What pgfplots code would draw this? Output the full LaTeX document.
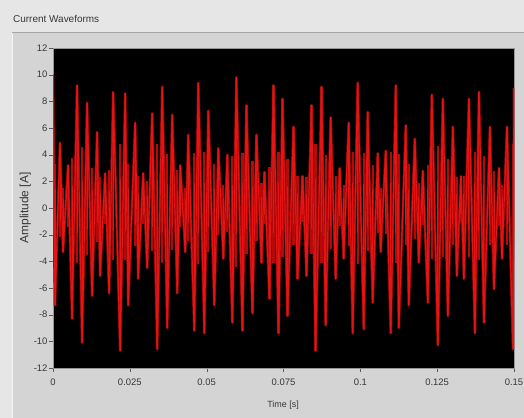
\documentclass[border=0pt]{standalone}
\usepackage{fontspec}
\setmainfont{Liberation Sans}
\usepackage{pgfplots}
\usepackage{pgfplotstable}
\pgfplotsset{compat=1.18}
\definecolor{outerbg}{RGB}{230,230,230}
\definecolor{panelbg}{RGB}{212,212,212}
\definecolor{txt}{RGB}{55,55,55}
\definecolor{wave}{RGB}{228,20,20}
\definecolor{wavedark}{RGB}{145,6,6}
\definecolor{wavemid}{RGB}{180,10,10}
\pgfplotstableread{
t y
0.00000 10.0
0.00065 -7.3
0.00228 4.9
0.00326 -3.3
0.00489 3.2
0.00620 -8.3
0.00783 9.2
0.00946 -10.1
0.01109 7.9
0.01272 -6.6
0.01435 5.7
0.01533 -5.1
0.01696 2.6
0.01826 -6.4
0.01957 8.7
0.02185 -10.7
0.02348 8.6
0.02446 -7.3
0.02674 6.4
0.02772 -5.3
0.02935 2.6
0.03065 -4.5
0.03228 7.1
0.03391 -10.6
0.03554 9.1
0.03717 -9.0
0.03880 7.0
0.04043 -6.4
0.04141 3.2
0.04304 -3.3
0.04402 5.5
0.04598 -9.2
0.04728 9.4
0.04924 -9.4
0.05054 7.3
0.05250 -7.3
0.05380 4.5
0.05543 -3.8
0.05674 4.0
0.05837 -8.6
0.05967 9.8
0.06163 -9.2
0.06293 7.7
0.06489 -7.9
0.06620 5.5
0.06783 -4.1
0.06880 2.7
0.07043 -6.8
0.07174 9.2
0.07337 -9.4
0.07467 8.2
0.07630 -8.1
0.07826 6.1
0.07957 -5.3
0.08120 2.4
0.08250 -5.1
0.08413 7.7
0.08543 -10.7
0.08739 9.1
0.08870 -8.8
0.09033 6.8
0.09196 -5.3
0.09326 3.0
0.09457 -3.8
0.09620 6.4
0.09750 -9.4
0.09913 9.4
0.10109 -9.1
0.10239 7.2
0.10402 -7.1
0.10565 4.1
0.10663 -3.3
0.10826 4.3
0.10989 -9.4
0.11152 9.2
0.11250 -9.0
0.11478 6.2
0.11576 -7.3
0.11772 5.2
0.11902 -4.1
0.12033 2.8
0.12196 -7.1
0.12326 8.5
0.12522 -10.3
0.12685 8.2
0.12848 -8.1
0.13011 6.1
0.13141 -5.1
0.13272 2.4
0.13370 -5.3
0.13533 8.2
0.13728 -9.4
0.13859 8.7
0.14022 -8.6
0.14217 6.1
0.14348 -6.1
0.14511 3.0
0.14609 -3.8
0.14772 6.1
0.14967 -10.6
0.15000 9.0
}\wavedata
\begin{document}
\begin{tikzpicture}
\useasboundingbox (0bp,0bp) rectangle (524bp,418bp);
\fill[outerbg] (0bp,0bp) rectangle (524bp,418bp);
\fill[panelbg] (12bp,0bp) rectangle (524bp,385bp);
\draw[line width=1bp, color={rgb,255:red,165;green,165;blue,165}] (12bp,385.5bp) -- (524bp,385.5bp);
\draw[line width=1bp, color={rgb,255:red,245;green,245;blue,245}] (12.5bp,0bp) -- (12.5bp,385bp);
\node[anchor=base west, font=\fontsize{10}{12}\selectfont, text=txt, inner sep=0pt] at (13bp,395bp) {Current Waveforms};
\begin{axis}[
  at={(53bp,50bp)}, anchor=south west,
  scale only axis, width=461bp, height=320bp,
  xmin=0, xmax=0.15, ymin=-12, ymax=12,
  axis background/.style={fill=black},
  axis line style={color={rgb,255:red,150;green,150;blue,150}},
  xtick={0,0.025,0.05,0.075,0.1,0.125,0.15},
  xticklabels={0,0.025,0.05,0.075,0.1,0.125,0.15},
  ytick={-12,-10,-8,-6,-4,-2,0,2,4,6,8,10,12},
  tick pos=left, tick align=outside, major tick length=3.5bp,
  tick style={color={rgb,255:red,90;green,90;blue,90}},
  /pgf/number format/assume math mode=true,
  tick label style={font=\fontsize{9.5}{11}\selectfont, text=txt},
  xticklabel style={yshift=-4bp},
  yticklabel style={xshift=1.5bp},
  xlabel={Time [s]}, ylabel={Amplitude [A]},
  xlabel style={font=\fontsize{9}{11}\selectfont, text=txt, at={(axis description cs:0.499,-0.117)}, anchor=center},
  ylabel style={font=\fontsize{12}{14}\selectfont, text=txt, at={(axis description cs:-0.060,0.5)}, anchor=center},
  clip=true,
]
\addplot[wavedark, line width=2.6bp, line join=round, mark=none,
  error bars/.cd, y dir=minus, y explicit, error mark=none,
  error bar style={wavemid, line width=2.2bp}]
  table[x=t, y=y, y error expr=1.45*\thisrow{y}] {\wavedata};
\addplot[wave, line width=1.2bp, line join=miter, mark=none,
  error bars/.cd, y dir=minus, y explicit, error mark=none,
  error bar style={wave, line width=0.9bp}]
  table[x=t, y=y, y error expr=1.2*\thisrow{y}] {\wavedata};
\end{axis}
\end{tikzpicture}
\end{document}
